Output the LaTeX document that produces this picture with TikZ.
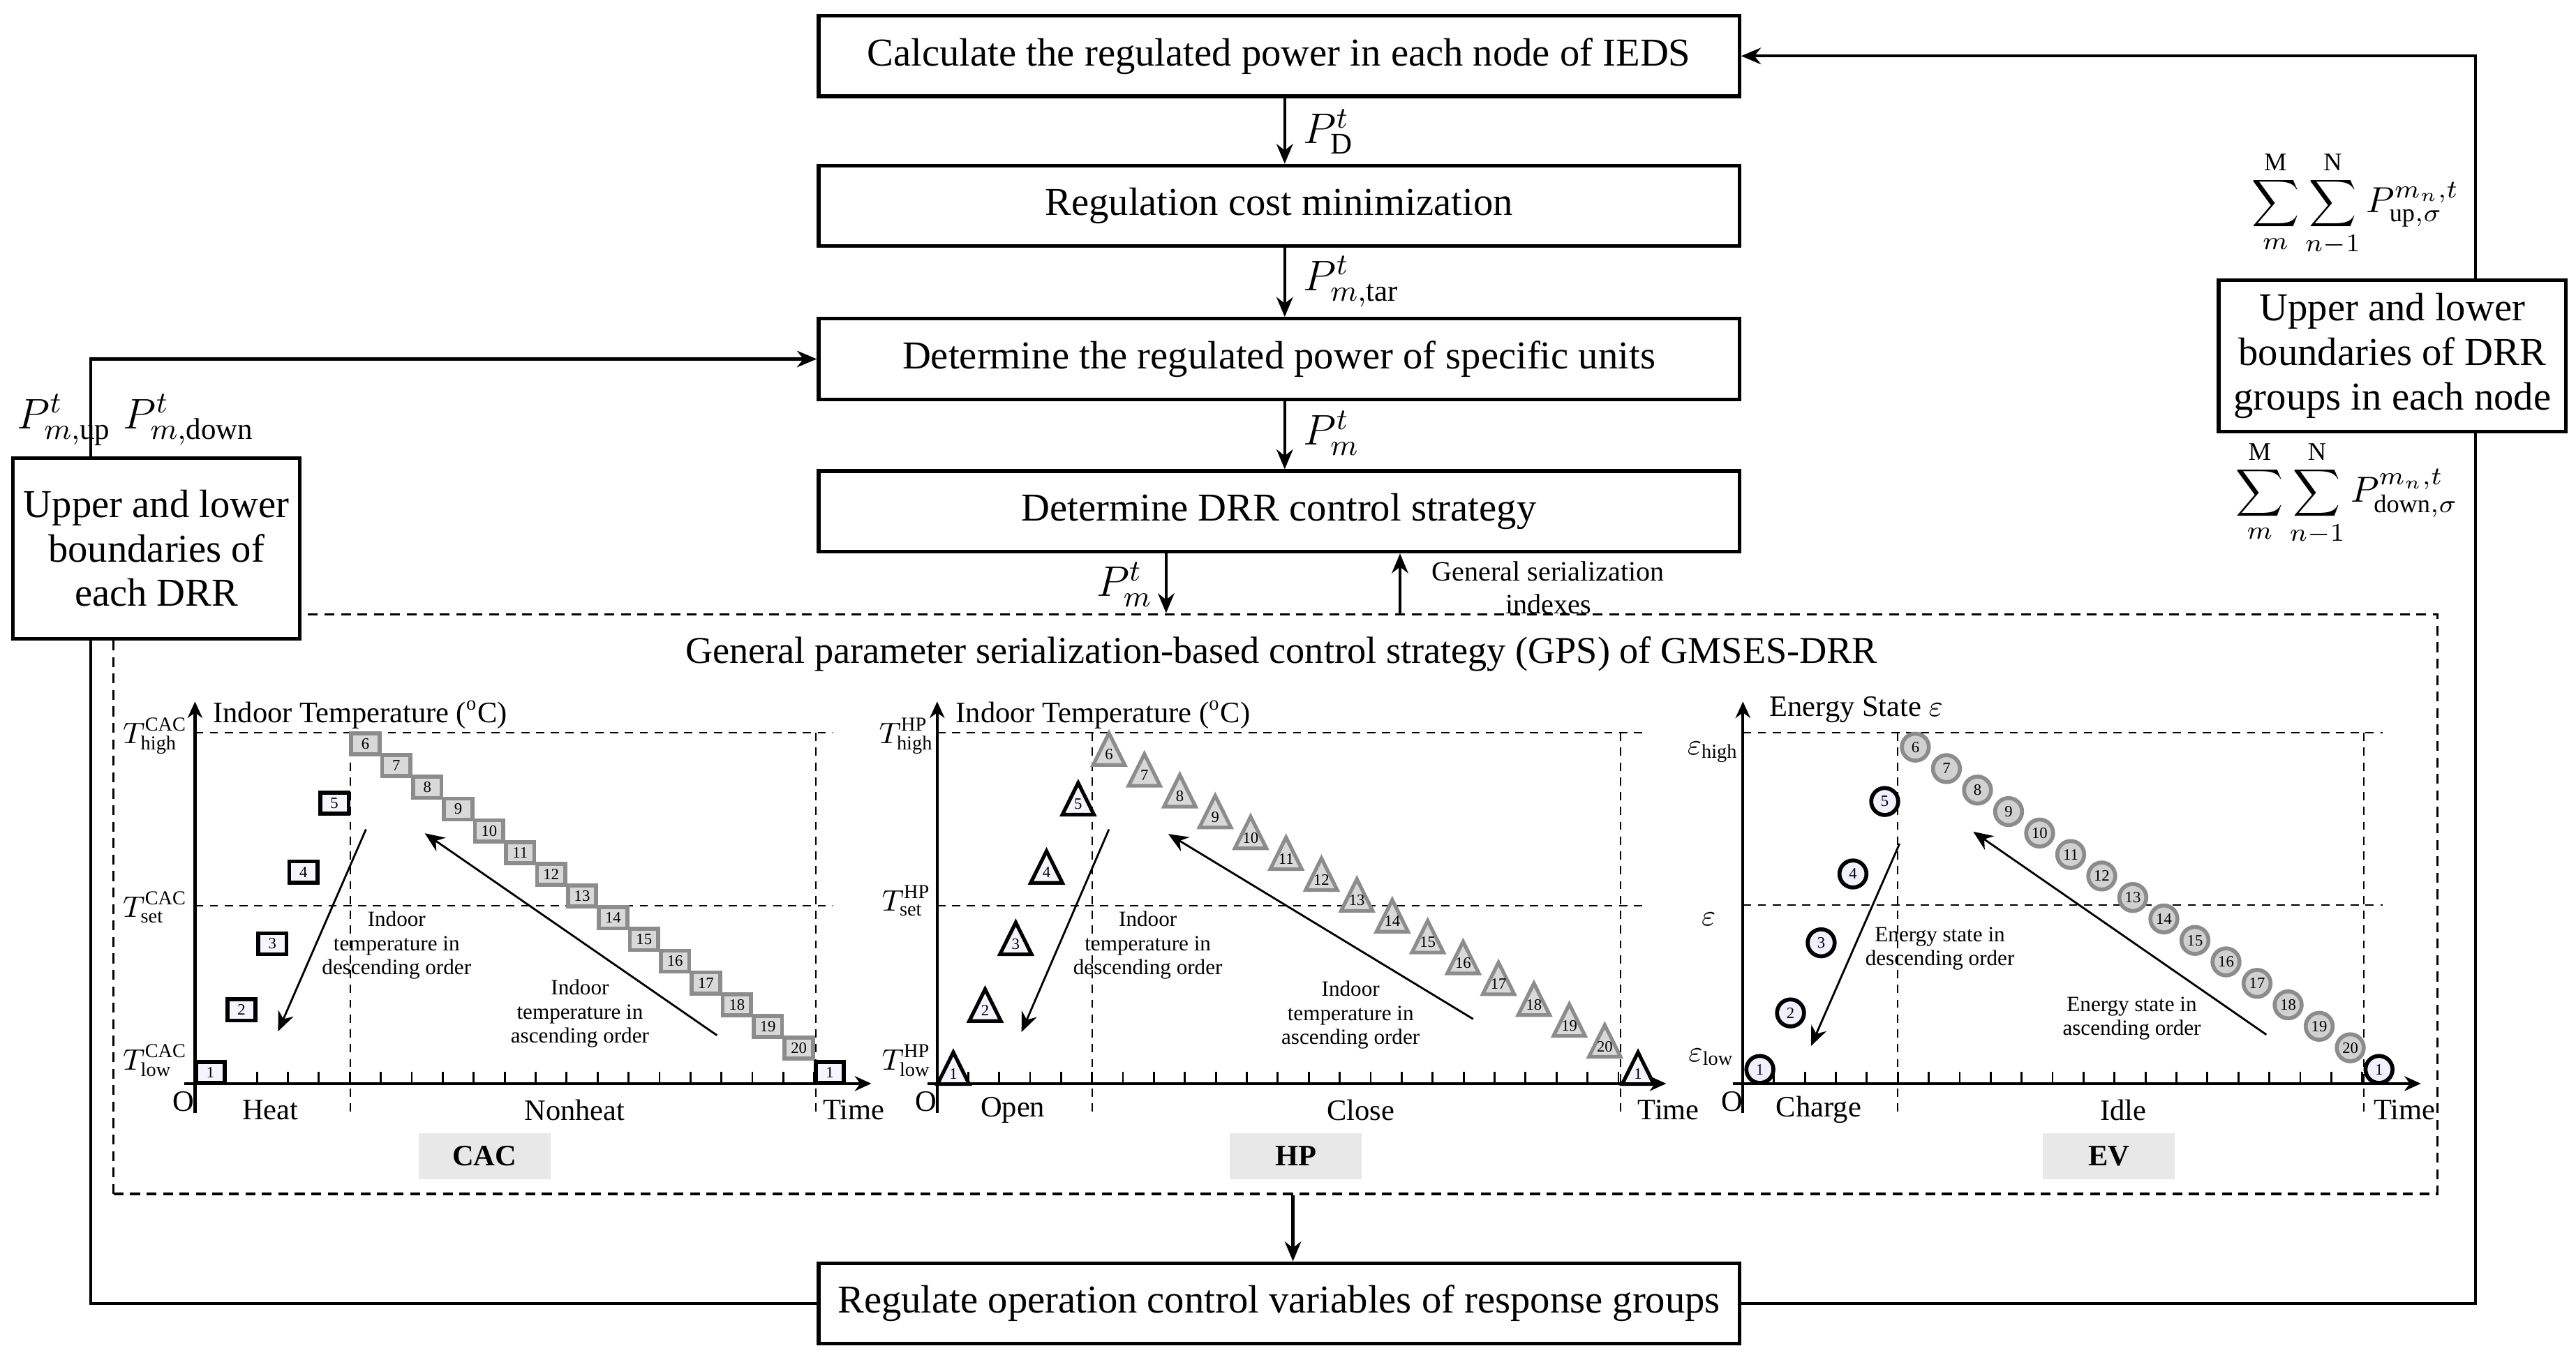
\RequirePackage{fix-cm}
\documentclass[tikz,border=0pt]{standalone}
\usepackage{fontspec}
\setmainfont{Liberation Serif}
\usetikzlibrary{arrows.meta,calc}
\begin{document}
\begin{tikzpicture}[x=0.5pt,y=-0.5pt,
  arr/.style={line width=0.9pt,-{Stealth[length=6pt,width=5pt]}},
  mbox/.style={draw,line width=1.1pt,minimum width=279.5pt,minimum height=24.5pt,inner sep=0pt,font=\fontsize{12}{13}\selectfont,fill=white},
  sbox/.style={draw,line width=1.1pt,align=center,inner sep=0pt,font=\fontsize{12}{13.5}\selectfont,fill=white},
  lbl/.style={font=\fontsize{13}{15}\selectfont,inner sep=0pt},
  ax/.style={line width=0.9pt,-{Stealth[length=5pt,width=4.5pt]}},
  dsh/.style={line width=0.45pt,dash pattern=on 2.5pt off 2pt},
  tk/.style={line width=0.6pt},
  ctxt/.style={font=\fontsize{6.6}{7.3}\selectfont,align=center,inner sep=0pt},
  atxt/.style={font=\fontsize{9}{10}\selectfont,inner sep=0pt},
  num/.style={font=\fontsize{4.8}{5}\selectfont,inner sep=0pt},
  tag/.style={fill=black!9,minimum width=40pt,minimum height=14pt,font=\bfseries\fontsize{9}{10}\selectfont},
  sqb/.style={draw=black,line width=1.2pt,fill=blue!4,minimum width=8.6pt,minimum height=6.4pt,inner sep=0pt,font=\fontsize{4.8}{5}\selectfont},
  sqg/.style={draw=black!45,line width=1.2pt,fill=black!15,minimum width=8.6pt,minimum height=6.4pt,inner sep=0pt,font=\fontsize{4.8}{5}\selectfont},
  cib/.style={circle,draw=black,line width=1.2pt,fill=blue!6,minimum size=8.2pt,inner sep=0pt,font=\fontsize{4.8}{5}\selectfont},
  cig/.style={circle,draw=black!45,line width=1.2pt,fill=black!18,minimum size=8.2pt,inner sep=0pt,font=\fontsize{4.8}{5}\selectfont},
  trb/.style={draw=black,line width=1.1pt,fill=blue!4,line join=miter},
  trg/.style={draw=black!45,line width=1.1pt,fill=black!15,line join=miter}]
\useasboundingbox (0,0) rectangle (1564,821.6);

% main boxes
\node[mbox] (b1) at (776.5,34) {Calculate the regulated power in each node of IEDS};
\node[mbox] (b2) at (776.5,125) {Regulation cost minimization};
\node[mbox] (b3) at (776.5,218) {Determine the regulated power of specific units};
\node[mbox] (b4) at (776.5,310.5) {Determine DRR control strategy};
\node[mbox] (b5) at (776.5,791.5) {Regulate operation control variables of response groups};
\node[draw,line width=0.7pt,dash pattern=on 3pt off 2pt,minimum width=705.5pt,minimum height=176pt,inner sep=0pt] (gps) at (774.5,549) {};
\node[font=\fontsize{11.5}{13}\selectfont] (gt) at (778,397) {General parameter serialization-based control strategy (GPS) of GMSES-DRR};

\coordinate (ca) at (780,0);
\draw[arr] (b1.south -| ca) -- (b2.north -| ca);
\draw[arr] (b2.south -| ca) -- (b3.north -| ca);
\draw[arr] (b3.south -| ca) -- (b4.north -| ca);
\node[lbl,anchor=west] (l1) at (791,80) {$P^{t}_{\mathrm{D}}$};
\node[lbl,anchor=west] (l2) at (791,171) {$P^{t}_{m,\mathrm{tar}}$};
\node[lbl,anchor=west] (l3) at (791,263) {$P^{t}_{m}$};
\coordinate (dn) at (708,0);
\coordinate (up) at (850,0);
\coordinate (cb) at (785,0);
\draw[arr] (b4.south -| dn) -- (gps.north -| dn);
\draw[arr] (gps.north -| up) -- (b4.south -| up);
\draw[arr] (gps.south -| cb) -- (b5.north -| cb);
\node[lbl,anchor=east] (l4) at (700,355) {$P^{t}_{m}$};
\node[font=\fontsize{8.5}{10}\selectfont,align=center,inner sep=0pt] (l5) at (940,357) {General serialization\\indexes};

% loops
\coordinate (L) at (55,500);
\coordinate (R) at (1503,500);
\draw[arr] (b5.west) -- (b5.west -| L) -- (b3.west -| L) -- (b3.west);
\draw[arr] (b5.east) -- (b5.east -| R) -- (b1.east -| R) -- (b1.east);
\node[sbox,minimum width=87pt,minimum height=55pt] (lb) at (95,333) {Upper and lower\\boundaries of\\each DRR};
\node[lbl,anchor=west] (lp) at (10,255) {$P^{t}_{m,\mathrm{up}}\;P^{t}_{m,\mathrm{down}}$};
\node[sbox,minimum width=105.5pt,minimum height=46pt] (rb) at (1452.5,216) {Upper and lower\\boundaries of DRR\\groups in each node};
\node[lbl,font=\fontsize{11}{13}\selectfont] (ru) at (1430,124) {$\displaystyle\sum_{m}^{\mathrm{M}}\sum_{n-1}^{\mathrm{N}}P^{m_n,t}_{\mathrm{up},\sigma}$};
\node[lbl,font=\fontsize{11}{13}\selectfont] (rd) at (1425,300) {$\displaystyle\sum_{m}^{\mathrm{M}}\sum_{n-1}^{\mathrm{N}}P^{m_n,t}_{\mathrm{down},\sigma}$};

% ---------- CAC chart ----------
\draw[dsh] (118.4,445) -- (505.8,445);
\draw[dsh] (118.4,550) -- (505.8,550);
\draw[dsh] (212.6,445) -- (212.6,677.6);
\draw[dsh] (495.3,445) -- (495.3,677.6);
\draw[ax] (112,658) -- (529,658);
\draw[ax] (118.4,676) -- (118.4,426);
\foreach \k in {1,...,20} \draw[tk] (118.4+\k*18.8,658) -- (118.4+\k*18.8,651);
\node[sqb] at (127.8,651.3) {1};
\foreach \k/\yy in {2/613.3,3/573.1,4/529.5,5/487.7} \node[sqb] at (118.4+\k*18.8-9.4,\yy) {\k};
\foreach \k in {6,...,20} \node[sqg] at (118.4+\k*18.8-9.4,451.7+\k*13.2-79.2) {\k};
\node[sqb] at (503.8,651.3) {1};
\draw[arr,line width=0.6pt] (222.2,503.6) -- (168.8,626.3);
\draw[arr,line width=0.6pt] (435.3,628.7) -- (257.9,506);
\node[ctxt] at (240.8,574) {Indoor\\temperature in\\descending order};
\node[ctxt] at (352.1,615.5) {Indoor\\temperature in\\ascending order};
\node[atxt,anchor=west] at (129,434) {Indoor Temperature (\textsuperscript{o}C)};
\node[atxt] at (94.2,446.8) {$T^{\mathrm{CAC}}_{\mathrm{high}}$};
\node[atxt] at (94.2,551) {$T^{\mathrm{CAC}}_{\mathrm{set}}$};
\node[atxt] at (94.2,644) {$T^{\mathrm{CAC}}_{\mathrm{low}}$};
\node[atxt] at (111.3,669) {O};
\node[atxt] at (164.1,674) {Heat};
\node[atxt] at (348.9,674) {Nonheat};
\node[atxt] at (518.3,674) {Time};
\node[tag] at (294.2,702) {CAC};

% ---------- HP chart ----------
\draw[dsh] (569,445) -- (1000.7,445);
\draw[dsh] (569,550) -- (1000.7,550);
\draw[dsh] (663,445) -- (663,677.6);
\draw[dsh] (984,445) -- (984,677.6);
\draw[ax] (563,658) -- (1011.6,658);
\draw[ax] (569,676) -- (569,426);
\foreach \k in {1,...,22} \draw[tk] (569+\k*18.8,658) -- (569+\k*18.8,651);
\foreach \cx/\ap/\n/\s in {578.8/639/1/trb,598.1/600.7/2/trb,616.7/560.2/3/trb,635.4/516.8/4/trb,654.6/475.4/5/trb,994.5/639/1/trb}{
  \draw[\s] (\cx-9.6,\ap+19.3) -- (\cx,\ap) -- (\cx+9.6,\ap+19.3) -- cycle;
  \node[num] at (\cx,\ap+13) {\n};}
\foreach \k in {6,...,20}{
  \pgfmathsetmacro\cx{673.3+(\k-6)*21.5}
  \pgfmathsetmacro\ap{445.2+(\k-6)*12.66}
  \draw[trg] (\cx-9.6,\ap+19.3) -- (\cx,\ap) -- (\cx+9.6,\ap+19.3) -- cycle;
  \node[num] at (\cx,\ap+13) {\k};}
\draw[arr,line width=0.6pt] (673.3,503.6) -- (620.2,626.7);
\draw[arr,line width=0.6pt] (894.4,618.8) -- (709.3,506.4);
\node[ctxt] at (696.9,574) {Indoor\\temperature in\\descending order};
\node[ctxt] at (820,616.5) {Indoor\\temperature in\\ascending order};
\node[atxt,anchor=west] at (580,434) {Indoor Temperature (\textsuperscript{o}C)};
\node[atxt] at (550.3,446.8) {$T^{\mathrm{HP}}_{\mathrm{high}}$};
\node[atxt] at (550.3,547) {$T^{\mathrm{HP}}_{\mathrm{set}}$};
\node[atxt] at (550.3,644) {$T^{\mathrm{HP}}_{\mathrm{low}}$};
\node[atxt] at (562.1,669) {O};
\node[atxt] at (614.9,674) {Open};
\node[atxt] at (826.1,674) {Close};
\node[atxt] at (1013,674) {Time};
\node[tag] at (786.8,702) {HP};

% ---------- EV chart ----------
\draw[dsh] (1058.2,445) -- (1446.5,445);
\draw[dsh] (1058.2,549.4) -- (1446.5,549.4);
\draw[dsh] (1152.3,445) -- (1152.3,677.6);
\draw[dsh] (1435,445) -- (1435,677.6);
\draw[ax] (1052,658) -- (1469.8,658);
\draw[ax] (1058.2,676) -- (1058.2,426);
\foreach \k in {1,...,20} \draw[tk] (1058.2+\k*18.8,658) -- (1058.2+\k*18.8,651);
\node[cib] at (1068.5,649.4) {1};
\foreach \k/\xx/\yy in {2/1087.1/615.1,3/1105.7/572.5,4/1125/530.7,5/1144.3/486.7} \node[cib] at (\xx,\yy) {\k};
\foreach \k in {6,...,20} \node[cig] at (1162.9+\k*18.86-113.16,453.7+\k*13.04-78.24) {\k};
\node[cib] at (1444.4,649.4) {1};
\draw[arr,line width=0.6pt] (1153.3,512.3) -- (1099.5,635.2);
\draw[arr,line width=0.6pt] (1376,628.3) -- (1198,505);
\node[ctxt] at (1177.8,576) {Energy state in\\descending order};
\node[ctxt] at (1294.3,618.4) {Energy state in\\ascending order};
\node[atxt,anchor=west] at (1074,431) {Energy State $\varepsilon$};
\node[atxt] at (1040,456.7) {$\varepsilon_{\mathrm{high}}$};
\node[atxt] at (1037.4,558.3) {$\varepsilon$};
\node[atxt] at (1039,642) {$\varepsilon_{\mathrm{low}}$};
\node[atxt] at (1051.7,669) {O};
\node[atxt] at (1104.2,674) {Charge};
\node[atxt] at (1289,674) {Idle};
\node[atxt] at (1460,674) {Time};
\node[tag] at (1280.4,702) {EV};
\end{tikzpicture}
\end{document}
